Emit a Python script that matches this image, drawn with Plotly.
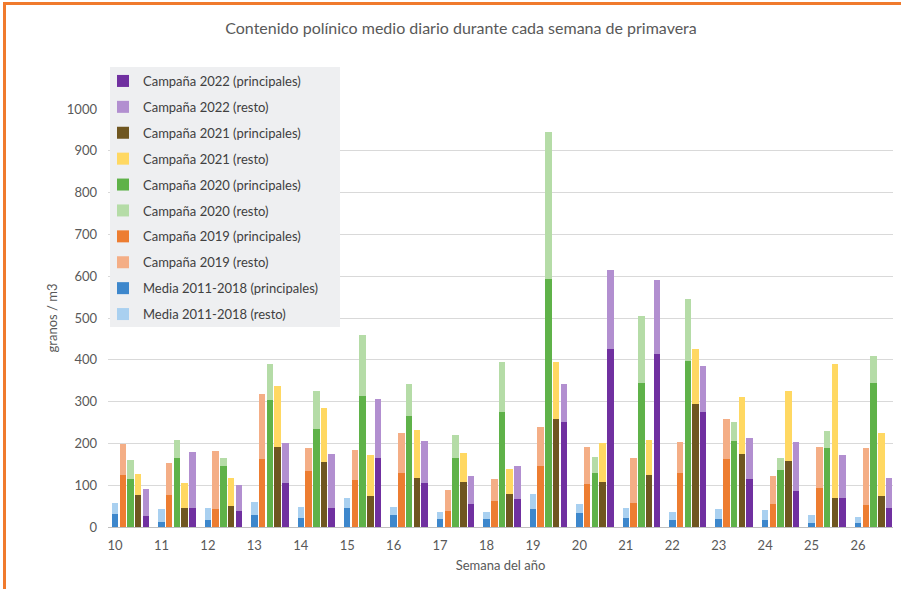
import plotly.graph_objects as go

weeks = list(range(10, 27))

media_pr = [30, 12, 16, 28, 22, 46, 28, 18, 18, 44, 34, 22, 17, 18, 16, 9, 9]
media_resto = [28, 31, 29, 33, 26, 23, 20, 18, 18, 34, 22, 23, 19, 26, 24, 19, 15]

y2019_pr = [124, 76, 43, 162, 135, 113, 130, 38, 62, 146, 102, 58, 129, 162, 56, 93, 53]
y2019_resto = [74, 76, 138, 157, 55, 72, 96, 50, 52, 94, 90, 107, 75, 96, 66, 99, 137]

y2020_pr = [116, 165, 147, 305, 235, 314, 266, 164, 274, 594, 130, 345, 396, 206, 136, 189, 345]
y2020_resto = [44, 43, 19, 86, 90, 146, 76, 56, 120, 350, 38, 159, 150, 46, 28, 40, 64]

y2021_pr = [76, 46, 50, 191, 155, 74, 118, 108, 78, 258, 108, 124, 294, 174, 157, 69, 74]
y2021_resto = [51, 60, 67, 146, 130, 99, 114, 70, 60, 137, 92, 85, 132, 138, 169, 321, 152]

y2022_pr = [26, 46, 39, 106, 46, 165, 106, 54, 68, 251, 427, 414, 274, 114, 85, 70, 46]
y2022_resto = [65, 133, 62, 94, 129, 142, 100, 68, 78, 92, 187, 178, 111, 100, 118, 102, 72]

y_ticks = list(range(0, 1001, 100))

# (slot index within week, principal name, principal values, color, resto name, resto values, color)
series = [
    (4, "Campaña 2022 (principales)", y2022_pr, "#7030a0", "Campaña 2022 (resto)", y2022_resto, "#b28fd0"),
    (3, "Campaña 2021 (principales)", y2021_pr, "#6f5620", "Campaña 2021 (resto)", y2021_resto, "#ffd862"),
    (2, "Campaña 2020 (principales)", y2020_pr, "#5fb249", "Campaña 2020 (resto)", y2020_resto, "#b5dca7"),
    (1, "Campaña 2019 (principales)", y2019_pr, "#ed7d31", "Campaña 2019 (resto)", y2019_resto, "#f4ae86"),
    (0, "Media 2011-2018 (principales)", media_pr, "#3d87cc", "Media 2011-2018 (resto)", media_resto, "#a9d0f0"),
]

fig = go.Figure()
slot = 1 / 6
bw = 0.14
for k, n1, v1, c1, n2, v2, c2 in series:
    xs = [w + k * slot for w in weeks]
    fig.add_trace(go.Bar(x=xs, y=v1, name=n1, marker=dict(color=c1, line=dict(width=0)),
                         width=bw, legendgroup=n1))
    fig.add_trace(go.Bar(x=xs, y=v2, name=n2, marker=dict(color=c2, line=dict(width=0)),
                         width=bw, legendgroup=n2))

L, R, T, B = 108, 8, 109, 62
W, H = 901, 589
pw, ph = W - L - R, H - T - B

def px(x):
    return (x - L) / pw

def py(y):
    return (H - B - y) / ph

shapes = [
    # legend background
    dict(type="rect", xref="paper", yref="paper", x0=px(110), x1=px(340), y0=py(327), y1=py(67),
         fillcolor="#eeeff1", line=dict(width=0), layer="above"),
    # orange frame (top & left)
    dict(type="line", xref="paper", yref="paper", x0=px(3), x1=px(901), y0=py(3.5), y1=py(3.5),
         line=dict(color="#f07a2d", width=3)),
    dict(type="line", xref="paper", yref="paper", x0=px(4.5), x1=px(4.5), y0=py(2), y1=py(589),
         line=dict(color="#f07a2d", width=3)),
]

font_family = "Lato, 'Open Sans', sans-serif"
fig.update_layout(
    width=W, height=H,
    margin=dict(l=L, r=R, t=T, b=B, pad=0),
    barmode="stack",
    paper_bgcolor="white",
    plot_bgcolor="white",
    font=dict(family=font_family, size=13, color="#595959"),
    title=dict(text="Contenido polínico medio diario durante cada semana de primavera",
               x=461 / W, xref="container", xanchor="center",
               y=1 - 28 / H, yref="container", yanchor="middle",
               font=dict(size=16, color="#595959", family=font_family)),
    xaxis=dict(range=[9.849, 26.753], tickmode="array", tickvals=weeks,
               ticktext=[str(w) for w in weeks], showgrid=False, zeroline=False,
               showline=True, linecolor="#bfbfbf", linewidth=1, ticks="",
               ticklabelstandoff=6,
               title=dict(text="Semana del año", font=dict(size=13, color="#595959"), standoff=9)),
    yaxis=dict(range=[0, 1000], tickmode="array", tickvals=y_ticks,
               ticktext=[str(v) for v in y_ticks], showgrid=True, gridcolor="#d9d9d9",
               gridwidth=1, zeroline=False, showline=False, ticks="", ticklabelstandoff=10,
               title=dict(text="granos / m3", font=dict(size=13, color="#595959"), standoff=6)),
    legend=dict(x=px(103), y=py(66), xanchor="left", yanchor="top", bgcolor="rgba(0,0,0,0)",
                borderwidth=0, tracegroupgap=6, traceorder="grouped",
                font=dict(size=13, color="#404040", family=font_family)),
    showlegend=True,
    shapes=shapes,
)

fig.write_html("out.html")
